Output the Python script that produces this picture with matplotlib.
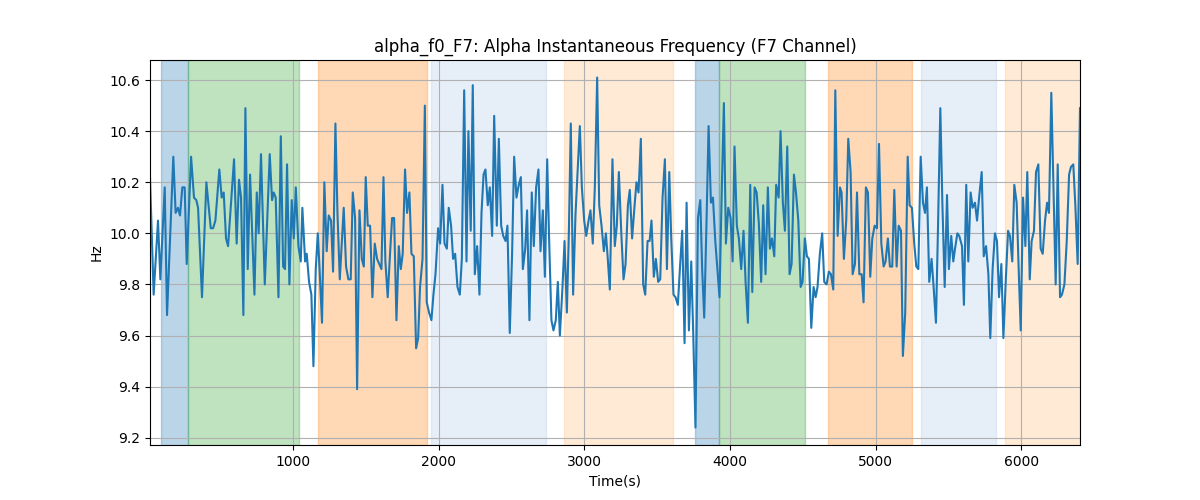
import numpy as np
import matplotlib
matplotlib.use("Agg")
import matplotlib.pyplot as plt

# time stamps (s) and instantaneous alpha frequency (Hz)
t = [18,43,73,89,119,135,178,194,210,224,240,256,270,300,320,336,348,375,405,435,
     451,467,494,510,524,540,554,595,613,629,643,659,673,689,705,735,751,764,780,806,
     840,856,867,881,900,916,932,945,959,975,991,1005,1019,1037,1053,1064,1083,1094,1110,1126,
     1140,1156,1170,1183,1199,1215,1231,1245,1261,1275,1291,1305,1321,1348,1364,1380,1396,1410,1426,1440,
     1456,1472,1486,1499,1513,1529,1545,1561,1577,
     1607,1621,1634,1650,1666,1680,1694,1710,1726,1740,1753,1769,1783,1799,1813,1829,1845,1859,1872,1889,
     1905,1918,1934,1950,1964,1978,1996,2010,2026,2040,2056,2069,2085,2099,2113,2129,2145,2159,2175,2191,
     2204,2220,2234,2248,2264,2280,2294,2308,2321,2337,2351,2367,2381,
     2399,2413,2429,2443,2459,2472,2488,2504,2518,2534,2550,2564,2578,2594,2607,2623,2639,2653,2669,2685,
     2699,2715,2729,2745,2758,2774,2788,2804,2818,2832,2850,2864,2880,2894,2907,2923,2939,2953,2969,2983,
     2999,3013,3029,3042,3058,3072,3088,3102,3118,3134,3148,3161,3175,
     3193,3209,3223,3237,3253,3269,3283,3299,3312,3328,3345,3358,3372,3388,3404,3418,3434,3448,3461,3477,
     3491,3507,3521,3537,3553,3567,3583,3596,3612,3626,3642,3658,3672,3688,3702,3718,3734,3747,3763,3780,
     3796,3809,3823,3839,3853,3869,3883,3899,3915,3928,3944,3958,
     3972,3988,4004,4018,4031,4047,4061,4077,4093,4107,4123,4139,4153,4169,4183,4198,4214,4228,4244,4260,
     4274,4288,4304,4317,4334,4347,4363,4377,4393,4409,4423,4439,4453,4469,4485,4498,4514,4528,4542,4558,
     4574,4588,4601,4617,4633,4647,4663,4679,4693,4709,4723,4739,4755,
     4766,4782,4798,4812,4828,4842,4858,4872,4888,4904,4917,4933,4947,4963,4977,4993,5009,5023,5039,5055,
     5068,5084,5098,5114,5128,5144,5158,5174,5187,5203,5220,5233,5249,5265,5279,5293,5309,5325,5339,5352,
     5368,5384,5398,5414,5428,5444,5458,5474,5490,5503,5519,5533,5545,
     5561,5574,5593,5606,5622,5636,5652,5666,5682,5696,5712,5728,5742,5758,5774,5787,5803,5819,5833,5847,
     5863,5877,5893,5909,5922,5938,5952,5968,5982,5996,6012,6028,6041,6058,6071,6087,6101,6117,6133,6147,
     6163,6177,6190,6206,6222,6236,6250,6266,6279,6296,6312,6328,6341,6357,6371,6387,6403]

hz = [10.22,9.76,10.05,9.82,10.18,9.68,10.30,10.08,10.10,10.07,10.18,10.18,9.88,10.30,10.14,10.13,10.10,9.75,10.20,10.02,
      10.02,10.05,10.25,10.14,10.16,9.98,9.95,10.29,9.96,10.21,10.14,9.68,10.49,9.86,10.23,9.76,10.16,10.00,10.31,9.80,
      10.31,10.13,10.16,10.14,9.75,10.38,9.87,9.86,10.27,9.80,10.13,9.98,10.18,9.95,9.89,10.10,9.89,9.92,9.81,9.76,
      9.48,9.86,10.00,9.85,9.65,10.20,9.93,10.07,10.05,9.85,10.43,10.08,9.82,10.10,9.87,9.82,9.82,10.16,10.06,9.39,
      10.09,9.90,9.87,10.22,10.03,10.03,9.75,9.96,9.90,
      9.86,10.22,9.89,9.75,9.92,10.06,10.06,9.66,9.95,9.86,9.92,10.25,10.08,10.16,9.92,9.91,9.55,9.59,9.79,9.90,
      10.50,9.73,9.69,9.66,9.76,9.84,10.02,9.96,10.19,9.96,9.94,10.10,10.03,9.90,9.92,9.79,9.76,9.90,10.56,9.89,
      10.40,10.01,10.58,9.84,9.95,9.76,10.08,10.23,10.25,10.11,10.18,9.99,10.46,
      10.03,10.37,10.03,9.99,9.97,10.03,9.61,9.92,10.30,10.14,10.19,10.22,9.86,9.94,10.09,9.66,10.16,9.95,10.18,10.25,
      9.93,10.09,9.83,10.29,9.98,9.66,9.62,9.66,9.81,9.60,9.79,9.97,9.69,10.01,10.43,9.76,10.07,10.23,10.42,10.18,
      10.05,9.99,10.05,10.09,9.96,10.18,10.61,10.11,10.03,9.93,10.00,9.90,9.78,
      10.29,9.95,10.03,10.24,10.01,9.82,9.88,10.11,10.17,9.98,10.11,10.20,10.16,10.37,9.80,9.76,9.97,9.97,10.05,9.83,
      9.90,9.81,9.82,10.14,10.29,9.86,10.24,9.99,9.76,9.75,9.72,9.88,10.01,9.57,10.12,9.62,9.89,9.62,9.24,10.06,
      10.13,9.86,9.67,10.05,10.42,10.12,10.14,9.97,9.85,9.75,10.18,10.51,
      9.96,10.10,10.06,9.89,10.34,10.03,9.98,9.86,10.01,9.81,9.65,10.19,9.77,10.18,10.16,10.04,9.81,10.11,9.84,10.18,
      9.94,9.98,9.91,10.19,10.14,10.40,10.12,10.01,10.34,9.84,9.88,10.23,10.16,10.05,9.79,9.81,9.98,9.91,9.90,9.63,
      9.79,9.75,9.79,9.92,10.00,9.81,9.80,9.85,9.84,9.78,10.56,9.99,10.18,
      10.16,9.90,10.05,10.37,10.24,9.84,9.88,10.16,9.84,9.84,9.73,10.18,10.16,9.83,9.98,10.03,10.02,10.35,9.96,9.87,
      9.89,9.98,9.87,9.87,10.17,9.87,10.03,10.01,9.52,9.69,10.30,10.11,10.10,9.96,9.87,9.86,10.30,10.12,10.08,10.18,
      9.81,9.90,9.79,9.65,10.02,10.49,10.12,9.79,10.15,9.86,9.99,9.89,9.94,
      10.00,9.99,9.95,9.72,10.19,9.89,10.16,10.10,10.12,10.05,10.15,10.24,9.91,9.95,9.84,9.59,9.86,10.00,9.97,9.75,
      9.88,9.59,9.81,10.01,9.99,9.89,10.19,10.12,9.86,9.62,10.14,9.95,10.24,9.82,9.97,10.01,10.24,10.27,9.94,9.92,
      10.05,10.12,10.08,10.55,10.15,9.80,10.27,9.75,9.76,9.80,9.97,10.23,10.26,10.27,10.11,9.88,10.49]

# shaded segments (start, end) in seconds
seg_start = [91, 282, 1170, 1944, 2859, 3761, 3927, 4675, 5311, 5888]
seg_end   = [282, 1042, 1921, 2735, 3612, 3927, 4512, 5249, 5824, 6403]
seg_color = ["#1f77b4", "#2ca02c", "#ff7f0e", "#aec7e8", "#ffbb78",
             "#1f77b4", "#2ca02c", "#ff7f0e", "#aec7e8", "#ffbb78"]

fig, ax = plt.subplots(figsize=(12, 5), dpi=100)

for s, e, c in zip(seg_start, seg_end, seg_color):
    ax.axvspan(s, e, color=c, alpha=0.3)

ax.plot(t, hz, color="#1f77b4", linewidth=1.5)

ax.set_xlim(t[0], t[-1])
ax.set_title("alpha_f0_F7: Alpha Instantaneous Frequency (F7 Channel)")
ax.set_xlabel("Time(s)")
ax.set_ylabel("Hz")
ax.grid(True)

fig.savefig("out.png")
